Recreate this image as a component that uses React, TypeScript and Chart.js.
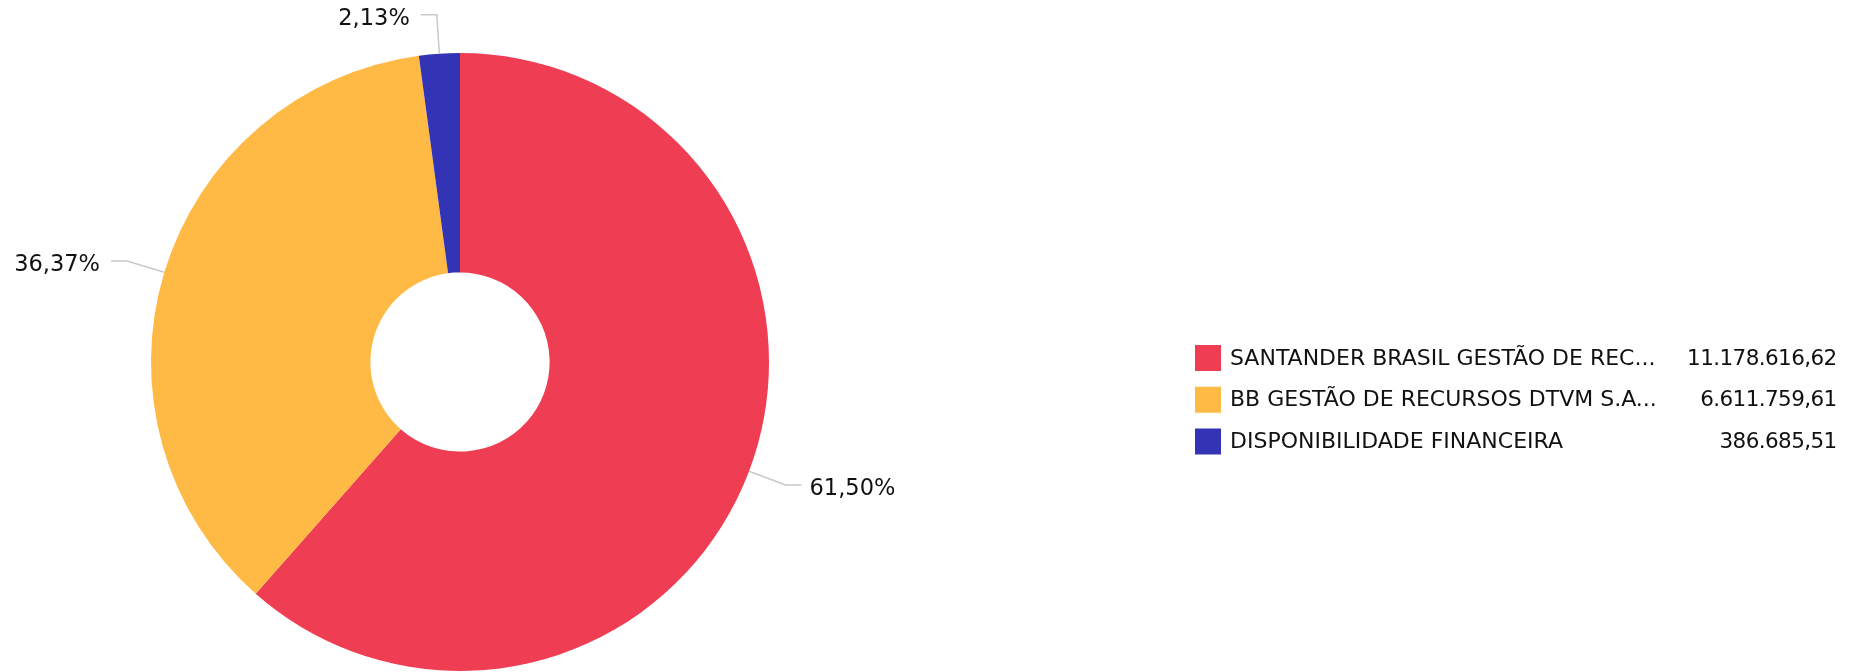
import React, { useEffect, useRef } from 'react';
import { Chart, registerables } from 'chart.js';

Chart.register(...registerables);

const categories = [
  'SANTANDER BRASIL GESTÃO DE REC...',
  'BB GESTÃO DE RECURSOS DTVM S.A...',
  'DISPONIBILIDADE FINANCEIRA',
];
const seriesValues = [11178616.62, 6611759.61, 386685.51];
const sliceColors = ['#EF3E53', '#FFBA45', '#3333B5'];

const FONT = '"DejaVu Sans", Verdana, sans-serif';

function formatBR(v: number): string {
  const [i, d] = v.toFixed(2).split('.');
  return i.replace(/\B(?=(\d{3})+(?!\d))/g, '.') + ',' + d;
}

function formatPct(v: number, total: number): string {
  return ((v / total) * 100).toFixed(2).replace('.', ',') + '%';
}

const sliceLabelsPlugin = {
  id: 'sliceLabels',
  afterDatasetsDraw(chart: any) {
    const ctx = chart.ctx as CanvasRenderingContext2D;
    const meta = chart.getDatasetMeta(0);
    const data = chart.data.datasets[0].data as number[];
    const total = data.reduce((a, b) => a + b, 0);
    ctx.save();
    ctx.font = `22.5px ${FONT}`;
    ctx.fillStyle = '#111111';
    ctx.strokeStyle = '#c9c9c9';
    ctx.lineWidth = 1.5;
    meta.data.forEach((arc: any, idx: number) => {
      const p = arc.getProps(['x', 'y', 'startAngle', 'endAngle', 'outerRadius'], true);
      const mid = (p.startAngle + p.endAngle) / 2;
      const c = Math.cos(mid);
      const s = Math.sin(mid);
      const x1 = p.x + c * p.outerRadius;
      const y1 = p.y + s * p.outerRadius;
      const r2 = p.outerRadius + 39;
      const x2 = p.x + c * r2;
      const y2 = p.y + s * r2;
      const dir = c >= 0 ? 1 : -1;
      const x3 = x2 + dir * 16;
      ctx.beginPath();
      ctx.moveTo(x1, y1);
      ctx.lineTo(x2, y2);
      ctx.lineTo(x3, y2);
      ctx.stroke();
      ctx.textAlign = dir > 0 ? 'left' : 'right';
      ctx.textBaseline = 'middle';
      ctx.fillText(formatPct(data[idx], total), x3 + dir * (dir > 0 ? 8 : 11), y2 + 4);
    });
    ctx.restore();
  },
};

const sideLegendPlugin = {
  id: 'sideLegend',
  afterDraw(chart: any) {
    const ctx = chart.ctx as CanvasRenderingContext2D;
    const labels = chart.data.labels as string[];
    const ds = chart.data.datasets[0];
    const data = ds.data as number[];
    const colors = ds.backgroundColor as string[];
    const swatchX = 1195;
    const textX = 1230;
    const valueRight = 1836;
    const firstY = 358;
    const step = 41.75;
    const sw = 26;
    ctx.save();
    ctx.textBaseline = 'middle';
    labels.forEach((lab, i) => {
      const cy = firstY + i * step;
      ctx.fillStyle = colors[i];
      ctx.fillRect(swatchX, cy - sw / 2, sw, sw);
      ctx.fillStyle = '#111111';
      ctx.font = `22px ${FONT}`;
      (ctx as any).letterSpacing = '0px';
      ctx.textAlign = 'left';
      ctx.fillText(lab, textX, cy + 1);
      ctx.font = `21.5px ${FONT}`;
      (ctx as any).letterSpacing = '-0.6px';
      ctx.textAlign = 'right';
      ctx.fillText(formatBR(data[i]), valueRight + 0.6, cy + 1);
    });
    ctx.restore();
  },
};

export default function App() {
  const canvasRef = useRef<HTMLCanvasElement | null>(null);

  useEffect(() => {
    document.body.style.margin = '0';
    const canvas = canvasRef.current;
    if (!canvas) return;
    const chart = new Chart(canvas, {
      type: 'doughnut',
      data: {
        labels: categories,
        datasets: [
          {
            data: seriesValues,
            backgroundColor: sliceColors,
            borderWidth: 0,
            hoverOffset: 0,
          },
        ],
      },
      options: {
        responsive: false,
        animation: false,
        cutout: '29%',
        layout: { padding: { left: 151, right: 1098, top: 53, bottom: 1 } },
        plugins: {
          legend: { display: false },
          tooltip: { enabled: false },
        },
      },
      plugins: [sliceLabelsPlugin, sideLegendPlugin],
    });
    return () => chart.destroy();
  }, []);

  return (
    <div style={{ width: 1867, height: 672, background: '#ffffff' }}>
      <canvas ref={canvasRef} width={1867} height={672} style={{ display: 'block' }} />
    </div>
  );
}
